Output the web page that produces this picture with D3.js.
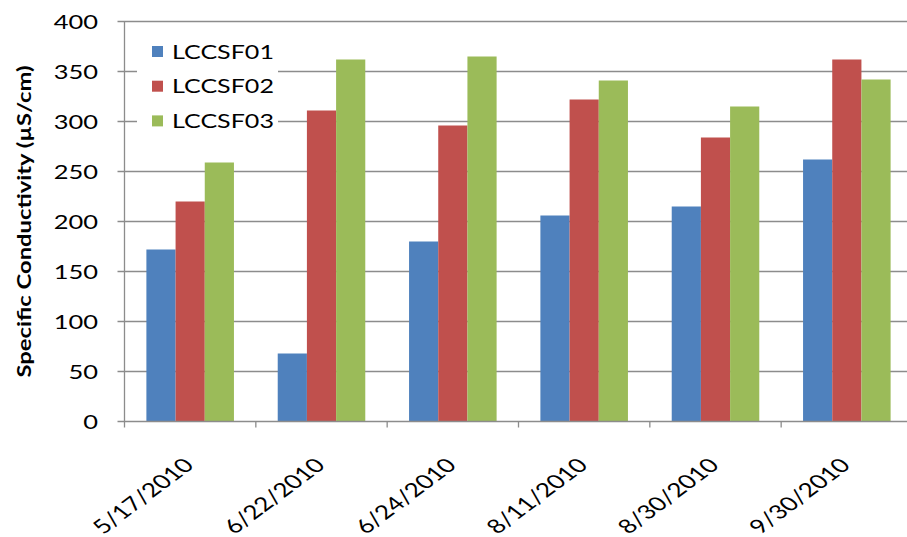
<!DOCTYPE html>
<html>
<head>
<meta charset="utf-8">
<script src="https://cdn.jsdelivr.net/npm/d3@7"></script>
<style>
  html, body { margin: 0; padding: 0; background: #fff; }
  svg { display: block; }
  text { font-family: Lato, "Open Sans", sans-serif; fill: #000; }
</style>
</head>
<body>
<svg id="chart" width="907" height="537"></svg>
<script>
// Sampling dates and specific conductivity (µS/cm) per station
const dates = ["5/17/2010", "6/22/2010", "6/24/2010", "8/11/2010", "8/30/2010", "9/30/2010"];
const seriesNames = ["LCCSF01", "LCCSF02", "LCCSF03"];
const lccsf01 = [172, 68, 180, 206, 215, 262];
const lccsf02 = [220, 311, 296, 322, 284, 362];
const lccsf03 = [259, 362, 365, 341, 315, 342];
const yTicks = [0, 50, 100, 150, 200, 250, 300, 350, 400];
const colors = ["#4F81BD", "#C0504D", "#9BBB59"];

const seriesValues = [lccsf01, lccsf02, lccsf03];
const rows = dates.map((d, i) => ({ date: d, values: seriesValues.map(s => s[i]) }));

// Text in this chart is drawn horizontally widened
const k = 1.34;

const svg = d3.select("#chart");
const plotLeft = 124.5, plotRight = 912.5, plotTop = 21.5, plotBottom = 421.5;

const x = d3.scaleBand().domain(dates).range([plotLeft, plotRight]).padding(0);
const bw = x.bandwidth();
const xs = d3.scaleBand().domain(seriesNames).range([bw / 6, bw * 5 / 6]).padding(0);
const y = d3.scaleLinear().domain([0, 400]).range([plotBottom, plotTop]);

// Horizontal gridlines with outside tick marks
svg.append("g").selectAll("line").data(yTicks.filter(t => t > 0)).join("line")
  .attr("x1", plotLeft - 7).attr("x2", plotRight)
  .attr("y1", d => y(d)).attr("y2", d => y(d))
  .attr("stroke", "#8c8c8c").attr("stroke-width", 1.3);

// Bars
const groups = svg.append("g").selectAll("g").data(rows).join("g")
  .attr("transform", d => `translate(${x(d.date)},0)`);
groups.selectAll("rect").data(d => d.values.map((v, i) => ({ v, name: seriesNames[i], i })))
  .join("rect")
  .attr("x", d => xs(d.name))
  .attr("width", xs.bandwidth())
  .attr("y", d => y(d.v))
  .attr("height", d => y(0) - y(d.v))
  .attr("fill", d => colors[d.i]);

// Axis lines
svg.append("line").attr("x1", plotLeft).attr("x2", plotLeft).attr("y1", plotTop).attr("y2", plotBottom)
  .attr("stroke", "#8c8c8c").attr("stroke-width", 1.3);
svg.append("line").attr("x1", plotLeft - 7).attr("x2", plotRight).attr("y1", plotBottom).attr("y2", plotBottom)
  .attr("stroke", "#8c8c8c").attr("stroke-width", 1.3);
// Category boundary ticks
svg.append("g").selectAll("line").data(dates).join("line")
  .attr("x1", d => x(d)).attr("x2", d => x(d))
  .attr("y1", plotBottom).attr("y2", plotBottom + 6)
  .attr("stroke", "#8c8c8c").attr("stroke-width", 1.3);

// Y tick labels
svg.append("g").selectAll("text").data(yTicks).join("text")
  .attr("transform", d => `translate(98,${y(d) + 7}) scale(${k},1)`)
  .attr("text-anchor", "end")
  .style("font-size", "19px")
  .text(d => d);

// X tick labels, rotated
svg.append("g").selectAll("text").data(dates).join("text")
  .attr("transform", d => `translate(${x(d) + bw / 2 + 5},${plotBottom + 45}) scale(${k},1) rotate(-45)`)
  .attr("text-anchor", "end")
  .style("font-size", "19.5px")
  .text(d => d);

// Y axis title
svg.append("text")
  .attr("transform", `translate(31,${(plotTop + plotBottom) / 2}) rotate(-90)`)
  .attr("text-anchor", "middle")
  .style("font-size", "18px")
  .style("font-weight", "bold")
  .attr("textLength", 312)
  .attr("lengthAdjust", "spacingAndGlyphs")
  .text("Specific Conductivity (µS/cm)");

// Legend
const legend = svg.append("g");
legend.append("rect").attr("x", 137).attr("y", 34).attr("width", 141).attr("height", 104).attr("fill", "#fff");
const items = legend.selectAll("g").data(seriesNames).join("g")
  .attr("transform", (d, i) => `translate(152,${51.5 + i * 34.7})`);
items.append("rect").attr("x", 0).attr("y", -5.5).attr("width", 11).attr("height", 11)
  .attr("fill", (d, i) => colors[i]);
items.append("text")
  .attr("transform", `translate(20,7) scale(${k},1)`)
  .style("font-size", "18.7px")
  .text(d => d);
</script>
</body>
</html>
